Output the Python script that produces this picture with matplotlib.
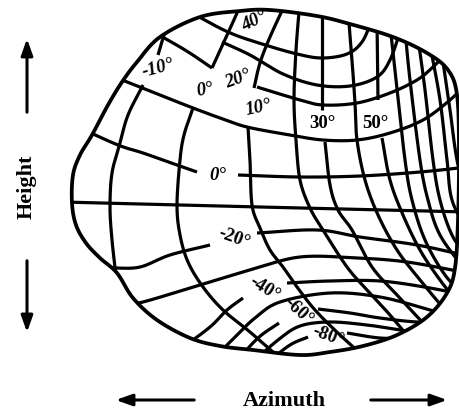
import numpy as np
import matplotlib.pyplot as plt
from matplotlib.patches import Polygon, FancyArrowPatch

# map outline (x, y in drawing units, y grows downward)
outline_x = [200, 240, 270, 317, 350, 393, 427, 448, 457, 459, 458, 455, 447, 427, 397, 363,
             330, 300, 253, 220, 190, 157, 133, 117, 100, 86, 76, 72, 73, 80, 92, 108, 122, 137, 160]
outline_y = [17, 11, 10, 16, 24, 37, 53, 70, 95, 150, 220, 268, 293, 317, 335, 346,
             352, 355, 350, 346, 338, 320, 298, 273, 258, 243, 225, 203, 175, 155, 135, 105, 82, 62, 37]

# elevation contours: list of pieces (gaps leave room for the labels)
elevation_lines = {
    "40": [[(190, 12), (228, 32), (262, 44), (297, 54), (322, 58), (347, 54), (362, 42), (372, 20)]],
    "30": [[(222, 42), (250, 55), (283, 74), (317, 85), (350, 86), (377, 77), (390, 60), (400, 32)]],
    "20": [[(150, 30), (185, 50), (212, 68)],
           [(257, 87), (300, 100), (323, 105), (357, 103), (390, 93), (417, 80), (433, 67), (450, 50)]],
    "10": [[(112, 76), (140, 87), (165, 97), (193, 108), (220, 118), (247, 127), (290, 135),
            (323, 140), (357, 140), (390, 133), (423, 120), (450, 100), (468, 82)]],
    "0": [[(80, 128), (118, 145), (143, 153), (177, 165), (197, 172)],
          [(238, 175), (300, 177), (360, 176), (420, 172), (468, 167)]],
    "-10": [[(62, 202), (260, 207), (468, 212)]],
    "-20": [[(92, 268), (113, 268), (140, 267), (170, 255), (210, 245)],
            [(257, 233), (317, 230), (360, 237), (417, 245), (468, 256)]],
    "-30": [[(122, 305), (143, 302), (200, 285), (250, 270), (300, 257), (357, 258), (407, 262), (468, 273)]],
    "-40": [[(182, 348), (210, 327), (227, 310), (243, 298)],
            [(287, 283), (330, 281), (380, 281), (430, 288), (468, 296)]],
    "-50": [[(212, 360), (235, 337), (255, 318), (280, 302), (330, 293), (380, 297), (430, 310), (468, 322)]],
    "-60": [[(236, 362), (258, 338), (279, 323)],
            [(318, 309), (350, 313), (380, 318), (417, 322), (450, 322)]],
    "-70": [[(253, 362), (278, 340), (300, 326), (330, 322), (367, 325), (400, 330), (420, 333)]],
    "-80": [[(268, 362), (290, 345), (308, 337)],
            [(347, 333), (380, 338), (410, 338)]],
}

# azimuth contours
azimuth_lines = {
    "-10": [[(166, 28), (158, 55)],
            [(143, 85), (128, 115), (120, 143), (112, 173), (110, 207), (112, 240), (117, 285)]],
    "0": [[(242, 2), (228, 33), (212, 68)],
          [(193, 108), (184, 135), (180, 160), (177, 205), (180, 235), (188, 262), (203, 287),
           (223, 310), (250, 332), (282, 360)]],
    "10": [[(287, 0), (270, 37), (260, 63), (254, 88)],
           [(248, 127), (250, 160), (252, 205), (260, 228), (270, 250), (283, 267), (297, 287),
            (315, 310), (340, 335), (368, 360)]],
    "20": [[(300, 0), (296, 50), (294, 100), (296, 140), (300, 180), (310, 208), (323, 230),
            (347, 267), (367, 290), (390, 315), (415, 345)]],
    "30": [[(322, 5), (322, 110)],
           [(325, 142), (330, 185), (338, 210), (352, 230), (372, 267), (397, 295), (425, 325)]],
    "40": [[(348, 10), (352, 60), (355, 103), (357, 140), (365, 180), (378, 215), (397, 250),
            (420, 280), (445, 310)]],
    "50": [[(377, 20), (378, 100)],
           [(382, 138), (390, 180), (403, 215), (420, 250), (440, 280), (460, 305)]],
    "60": [[(390, 25), (396, 80), (405, 160), (412, 200), (425, 240), (445, 275), (465, 295)]],
    "70": [[(405, 30), (410, 80), (420, 160), (428, 200), (440, 235), (465, 270)]],
    "80": [[(418, 38), (425, 90), (433, 160), (440, 200), (452, 235), (468, 258)]],
    "90": [[(430, 45), (440, 100), (447, 160), (452, 200), (468, 232)]],
    "100": [[(442, 55), (450, 110), (457, 160), (468, 205)]],
}

# label text, position, angle and slant
labels = [
    ("40°", 254, 21, -25, "italic"), ("20°", 238, 79, -20, "italic"), ("-10°", 158, 68, -15, "italic"),
    ("0°", 205, 90, -10, "italic"), ("10°", 258, 108, -12, "italic"), ("30°", 322, 124, 0, "normal"),
    ("50°", 375, 124, 0, "normal"), ("0°", 218, 176, 0, "italic"), ("-20°", 234, 238, 20, "normal"),
    ("-40°", 265, 289, 32, "normal"), ("-60°", 298, 312, 42, "normal"), ("-80°", 328, 336, 20, "normal"),
]


def smooth(pts, n=24, closed=False):
    p = np.asarray(pts, float)
    if len(p) < 3 and not closed:
        return p
    if closed:
        p = np.vstack([p[-1], p, p[0], p[1]])
    else:
        p = np.vstack([2 * p[0] - p[1], p, 2 * p[-1] - p[-2]])
    out = []
    t = np.linspace(0, 1, n, endpoint=False)[:, None]
    for i in range(1, len(p) - 2):
        p0, p1, p2, p3 = p[i - 1], p[i], p[i + 1], p[i + 2]
        out.append(0.5 * (2 * p1 + (-p0 + p2) * t + (2 * p0 - 5 * p1 + 4 * p2 - p3) * t ** 2
                          + (-p0 + 3 * p1 - 3 * p2 + p3) * t ** 3))
    out.append(p[-2][None])
    return np.vstack(out)


fig = plt.figure(figsize=(4.6, 4.13), dpi=100)
ax = fig.add_axes([0, 0, 1, 1])
ax.set_xlim(0, 460)
ax.set_ylim(413, 0)
ax.axis("off")

lw = 2.3
blob = smooth(list(zip(outline_x, outline_y)), closed=True)
clip = Polygon(blob, closed=True, transform=ax.transData, facecolor="none", edgecolor="none")
ax.add_patch(clip)
ax.add_patch(Polygon(blob, closed=True, facecolor="none", edgecolor="black", lw=lw + 0.4, zorder=3))

for group in (elevation_lines, azimuth_lines):
    for pieces in group.values():
        for piece in pieces:
            c = smooth(piece)
            line, = ax.plot(c[:, 0], c[:, 1], color="black", lw=lw, solid_capstyle="butt")
            line.set_clip_path(clip)

serif = ["Liberation Serif", "DejaVu Serif"]
for txt, x, y, rot, style in labels:
    ax.text(x, y, txt, ha="center", va="center", rotation=-rot, fontsize=13.5, fontweight="bold",
            fontstyle=style, family=serif, zorder=4)

# axis direction arrows
arrow_kw = dict(arrowstyle="-|>,head_length=0.7,head_width=0.25", color="black", lw=2.2, mutation_scale=14)
ax.add_patch(FancyArrowPatch((27, 115), (27, 36), **arrow_kw))
ax.add_patch(FancyArrowPatch((27, 258), (27, 335), **arrow_kw))
ax.add_patch(FancyArrowPatch((197, 400), (113, 400), **arrow_kw))
ax.add_patch(FancyArrowPatch((368, 400), (450, 400), **arrow_kw))
ax.text(27, 187, "Height", rotation=90, ha="center", va="center", fontsize=16, fontweight="bold", family=serif)
ax.text(284, 401, "Azimuth", ha="center", va="center", fontsize=16, fontweight="bold", family=serif)

fig.savefig("out.png", dpi=100)
